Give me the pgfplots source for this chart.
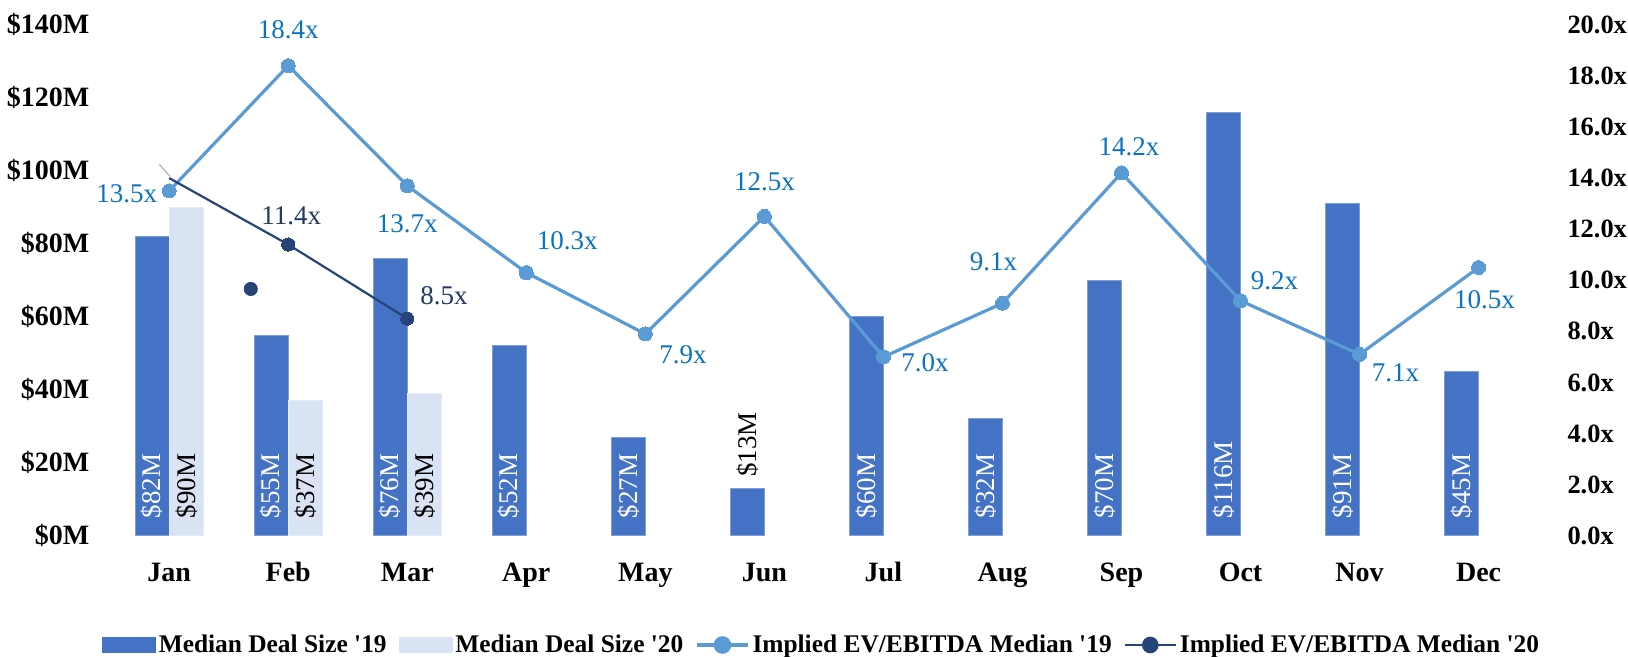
\documentclass[border=0pt]{standalone}
\usepackage{fontspec}
\setmainfont{Liberation Serif}[Ligatures=TeXOff]
\usepackage{pgfplots}
\usepackage{pgfplotstable}
\pgfplotsset{compat=1.18}
\definecolor{cA}{HTML}{4472C4}
\definecolor{cAb}{HTML}{7F9FD8}
\definecolor{cB}{HTML}{DAE3F3}
\definecolor{cBb}{HTML}{E6ECF7}
\definecolor{cL1}{HTML}{5B9BD5}
\definecolor{cL2}{HTML}{264478}
\definecolor{cT1}{HTML}{0A72C4}
\definecolor{cT2}{HTML}{203864}

\pgfplotsset{
  barlegend/.style={legend image code/.code={\fill[##1] (0pt,-3.6pt) rectangle (26.5pt,3.6pt);}},
  linelegend/.style={legend image code/.code={\draw[##1] (0pt,0pt) -- (25.5pt,0pt); \fill[##1] (12.75pt,0pt) circle (3.6pt);}},
}

\pgfplotstableread{
x v
0 82
1 55
2 76
3 52
4 27
5 13
6 60
7 32
8 70
9 116
10 91
11 45
}\barsA
\pgfplotstableread{
x v
0 90
1 37
2 39
}\barsB
\pgfplotstableread{
x lab
0 {\$82M}
1 {\$55M}
2 {\$76M}
3 {\$52M}
4 {\$27M}
6 {\$60M}
7 {\$32M}
8 {\$70M}
9 {\$116M}
10 {\$91M}
11 {\$45M}
}\labA
\pgfplotstableread{
x lab
0 {\$90M}
1 {\$37M}
2 {\$39M}
}\labB
\pgfplotstableread{
x y lab dx dy
0 13.5 13.5x -21.2 -1.3
1 18.4 18.4x 0 17.8
2 13.7 13.7x 0 -19.2
3 10.3 10.3x 20.5 16
4 7.9 7.9x 18.8 -10.3
5 12.5 12.5x 0 17.5
6 7.0 7.0x 20.8 -2.8
7 9.1 9.1x -4.5 20.8
8 14.2 14.2x 3.8 13.3
9 9.2 9.2x 17 10
10 7.1 7.1x 18 -9.2
11 10.5 10.5x 3 -16.2
}\lineA
\pgfplotstableread{
x y lab dx dy
0 14.0 14.0x -5 16.6
1 11.4 11.4x 1.5 14.5
2 8.5 8.5x 18.3 11.3
}\lineB

\newcommand{\tickfont}{\bfseries\fontsize{14}{16}\selectfont}
\newcommand{\rtickfont}{\bfseries\fontsize{13.2}{16}\selectfont}
\newcommand{\labfont}{\fontsize{13.5}{15}\selectfont}

\begin{document}
\begin{tikzpicture}
\path[use as bounding box] (-54.85pt,-60.6pt) rectangle (759.15pt,267.9pt);
\begin{axis}[
  at={(0,0)}, anchor=south west,
  scale only axis, width=714.2pt, height=255.5pt,
  xmin=-0.5, xmax=11.5, ymin=0, ymax=140,
  xtick={0,...,11},
  xticklabels={Jan,Feb,Mar,Apr,May,Jun,Jul,Aug,Sep,Oct,Nov,Dec},
  ytick={0,20,...,140},
  yticklabel={\$\pgfmathprintnumber{\tick}M},
  /pgf/number format/assume math mode=true,
  axis line style={draw=none}, major tick length=0pt,
  tick label style={font=\tickfont},
  yticklabel style={anchor=east, inner sep=0pt, xshift=-10pt},
  xticklabel style={anchor=base, inner sep=0pt, yshift=-23pt},
  clip=false,
]
\addplot[ybar, bar width=17.1pt, bar shift=-8.55pt, fill=cA, draw=cAb, line width=0.5pt] table[x=x,y=v] \barsA;
\addplot[ybar, bar width=17.1pt, bar shift=8.55pt, fill=cB, draw=cBb, line width=0.5pt] table[x=x,y=v] \barsB;
\addplot[draw=none, mark=none, point meta=explicit symbolic, nodes near coords,
  every node near coord/.append style={xshift=-8.55pt, yshift=8.5pt, rotate=90, anchor=west, inner sep=0pt, font=\labfont, text=white}]
  table[x=x, y expr=0, meta=lab] \labA;
\addplot[draw=none, mark=none, point meta=explicit symbolic, nodes near coords,
  every node near coord/.append style={xshift=8.55pt, yshift=8.5pt, rotate=90, anchor=west, inner sep=0pt, font=\labfont, text=black}]
  table[x=x, y expr=0, meta=lab] \labB;
\addplot[draw=none, mark=none, point meta=explicit symbolic, nodes near coords,
  every node near coord/.append style={xshift=-8.55pt, yshift=5.6pt, rotate=90, anchor=west, inner sep=0pt, font=\labfont, text=black}]
  coordinates {(5,13) [\$13M]};
\end{axis}

\begin{axis}[
  at={(0,0)}, anchor=south west,
  scale only axis, width=714.2pt, height=255.5pt,
  xmin=-0.5, xmax=11.5, ymin=0, ymax=20,
  axis x line=none, axis y line*=right,
  ytick={0,2,...,20},
  yticklabel={\pgfmathprintnumber[fixed,fixed zerofill,precision=1]{\tick}x},
  /pgf/number format/assume math mode=true,
  axis line style={draw=none}, major tick length=0pt,
  yticklabel style={anchor=west, inner sep=0pt, xshift=14.5pt, font=\rtickfont},
  clip=false,
  legend columns=4,
  legend style={at={(0.4987,-0.2137)}, anchor=center, draw=none, fill=none,
    font=\bfseries\fontsize{12.7}{15}\selectfont,
    /tikz/every even column/.append style={column sep=4.5pt},
    nodes={inner sep=1.5pt}},
]
\addlegendimage{fill=cA, draw=cA, barlegend}
\addlegendentry{Median Deal Size '19}
\addlegendimage{fill=cB, draw=cB, barlegend}
\addlegendentry{Median Deal Size '20}
\addplot[color=cL1, line width=1.6pt, mark=*, mark size=3.5pt, mark options={fill=cL1, draw=cL1, line width=0pt},
  linelegend,
  point meta=explicit symbolic,
  visualization depends on={\thisrow{dx}\as\ldx},
  visualization depends on={\thisrow{dy}\as\ldy},
  nodes near coords,
  every node near coord/.append style={anchor=center, xshift=\ldx pt, yshift=\ldy pt, text=cT1, font=\labfont, inner sep=0pt}]
  table[x=x,y=y,meta=lab] \lineA;
\addlegendentry{Implied EV/EBITDA Median '19}
\addplot[color=cL2, line width=1.1pt, mark=*, mark size=3.3pt, mark indices={2,3}, mark options={fill=cL2, draw=cL2, line width=0pt},
  linelegend,
  point meta=explicit symbolic,
  visualization depends on={\thisrow{dx}\as\ldx},
  visualization depends on={\thisrow{dy}\as\ldy},
  nodes near coords,
  every node near coord/.append style={anchor=center, xshift=\ldx pt, yshift=\ldy pt, text=cT2, font=\labfont, inner sep=0pt}]
  table[x=x,y=y,meta=lab] \lineB;
\addlegendentry{Implied EV/EBITDA Median '20}
\addplot[only marks, mark=*, mark size=3.3pt, color=cL2, forget plot] coordinates {(0.685,9.66)};
\draw[gray!60, line width=0.6pt] (axis cs:-0.083,14.54) -- (axis cs:0.007,14.06);
\end{axis}
\end{tikzpicture}
\end{document}
